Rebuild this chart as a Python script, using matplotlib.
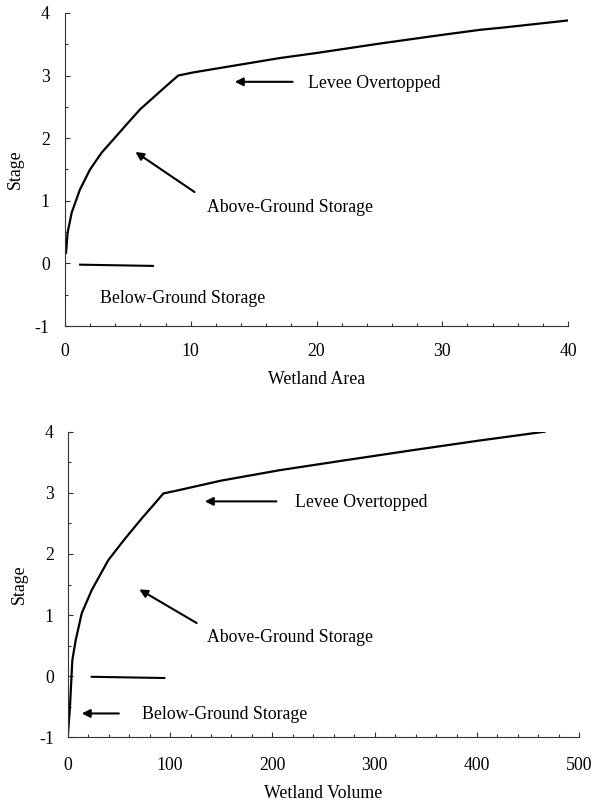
import matplotlib
matplotlib.use("Agg")
import matplotlib.pyplot as plt
from matplotlib.ticker import MultipleLocator

plt.rcParams['font.family'] = ['Liberation Serif', 'DejaVu Serif']
plt.rcParams['font.size'] = 12.8
plt.rcParams['axes.unicode_minus'] = False

# Stage vs wetland area (top panel)
area = [0.08, 0.21, 0.53, 1.19, 1.99, 2.92, 3.98, 4.9, 5.97, 7.03, 8.09, 9.0,
        10.2, 15, 17.1, 20, 25, 30, 33, 35, 40]
area_stage = [0.17, 0.49, 0.81, 1.18, 1.5, 1.77, 2.01, 2.22, 2.46, 2.65, 2.84, 3.0,
              3.05, 3.21, 3.28, 3.36, 3.51, 3.65, 3.73, 3.77, 3.88]

# Stage vs wetland volume (bottom panel)
volume = [0, 2.2, 4.5, 7.8, 13.7, 23.5, 39.7, 56, 72.3, 85.3, 93.5, 104.9,
          150, 207, 270, 338, 400, 466]
volume_stage = [-1.0, -0.5, 0.26, 0.59, 1.03, 1.41, 1.9, 2.25, 2.58, 2.83, 2.99, 3.03,
                3.2, 3.37, 3.53, 3.7, 3.85, 4.0]

labels = ["Levee Overtopped", "Above-Ground Storage", "Below-Ground Storage"]

fig = plt.figure(figsize=(5.93, 8.08), dpi=100)
ax1 = fig.add_axes([0.1096, 0.5965, 0.8484, 0.3875])
ax2 = fig.add_axes([0.1142, 0.0875, 0.8627, 0.3782])

arrow = dict(arrowstyle='-|>', color='black', lw=1.5, mutation_scale=12, shrinkA=0, shrinkB=0)


def style(ax, xmax, xmajor, xminor, xlabel, xpad, ypad):
    ax.set_xlim(0, xmax)
    ax.set_ylim(-1, 4)
    ax.spines['top'].set_visible(False)
    ax.spines['right'].set_visible(False)
    for s in ['left', 'bottom']:
        ax.spines[s].set_color('#333333')
        ax.spines[s].set_linewidth(0.8)
    ax.xaxis.set_major_locator(MultipleLocator(xmajor))
    ax.xaxis.set_minor_locator(MultipleLocator(xminor))
    ax.yaxis.set_major_locator(MultipleLocator(1))
    ax.yaxis.set_minor_locator(MultipleLocator(0.5))
    ax.tick_params(which='both', direction='in', color='#333333', width=0.8)
    ax.tick_params(which='major', length=3.5)
    ax.tick_params(which='minor', length=2.5)
    ax.tick_params(axis='x', which='major', pad=xpad)
    ax.tick_params(axis='y', which='major', pad=ypad)
    ax.set_ylabel("Stage", labelpad=8)
    ax.set_xlabel(xlabel, labelpad=8)


# top panel
ax1.plot(area, area_stage, color='black', lw=1.6)
ax1.annotate("", xy=(13.5, 2.9), xytext=(18.1, 2.9), arrowprops=arrow)
ax1.text(19.3, 2.87, labels[0], va='center', ha='left')
ax1.annotate("", xy=(5.6, 1.78), xytext=(10.3, 1.14), arrowprops=arrow)
ax1.text(11.3, 0.9, labels[1], va='center', ha='left')
ax1.plot([1.2, 7.0], [-0.02, -0.04], color='black', lw=1.5)
ax1.text(2.8, -0.56, labels[2], va='center', ha='left')
style(ax1, 40, 10, 2, "Wetland Area", 12, 11)

# bottom panel
ax2.plot(volume, volume_stage, color='black', lw=1.6)
ax2.annotate("", xy=(134, 2.86), xytext=(204, 2.86), arrowprops=arrow)
ax2.text(222, 2.84, labels[0], va='center', ha='left')
ax2.annotate("", xy=(70, 1.42), xytext=(126, 0.87), arrowprops=arrow)
ax2.text(136.5, 0.64, labels[1], va='center', ha='left')
ax2.plot([23.4, 94.4], [-0.01, -0.03], color='black', lw=1.5)
ax2.annotate("", xy=(13.7, -0.61), xytext=(50, -0.61), arrowprops=arrow)
ax2.text(72.3, -0.63, labels[2], va='center', ha='left')
style(ax2, 500, 100, 20, "Wetland Volume", 14, 10)

fig.savefig("out.png", dpi=100)
